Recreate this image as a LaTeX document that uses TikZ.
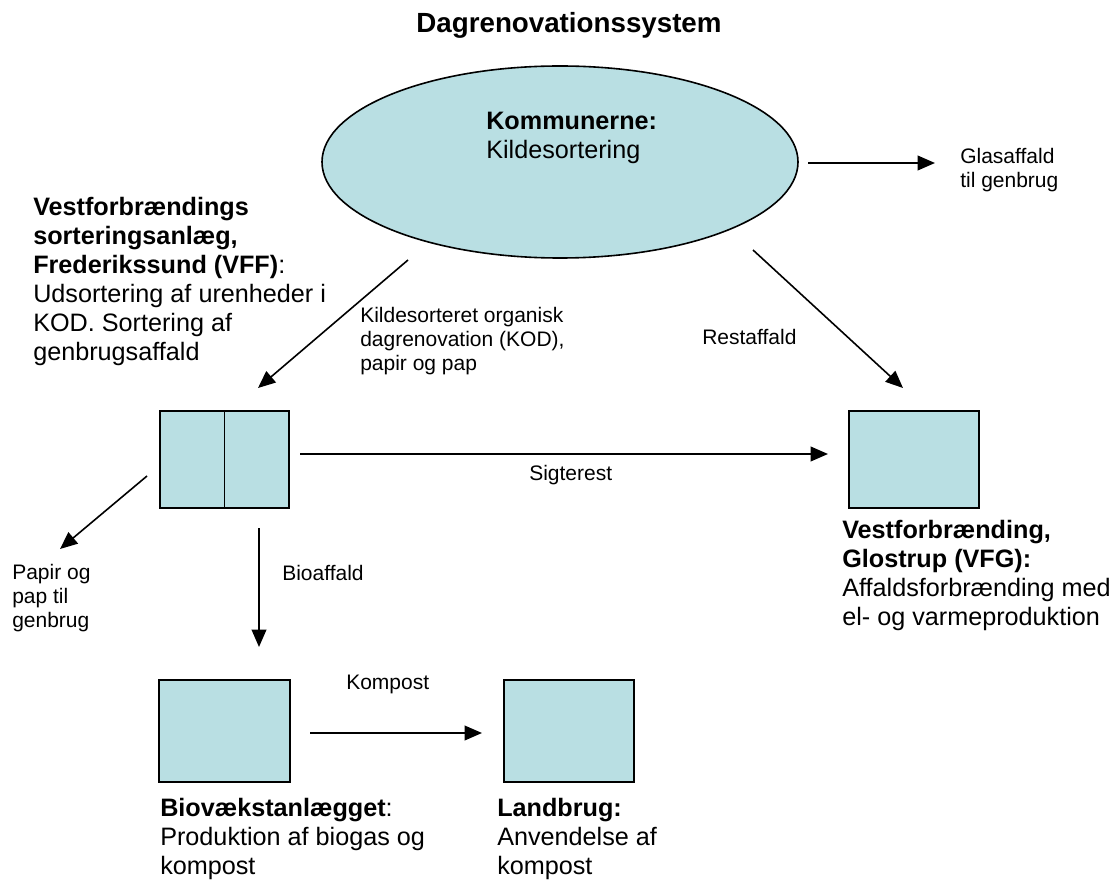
\documentclass[tikz,border=0pt]{standalone}
\usepackage{fontspec}
\setmainfont{Liberation Sans}
\usetikzlibrary{arrows.meta,shapes.geometric}
\definecolor{boxfill}{RGB}{185,223,227}
\begin{document}
\begin{tikzpicture}[x=0.75pt,y=-0.75pt,
  box/.style={draw=black, line width=1.2pt, fill=boxfill, inner sep=0},
  arr/.style={line width=1.2pt, -{Triangle[length=13pt,width=11pt]}},
  body/.style={font=\fontsize{18.9}{21.75}\selectfont, align=left, anchor=north west, inner sep=0},
  lbl/.style={font=\fontsize{15.75}{18}\selectfont, align=left, anchor=north west, inner sep=0},
  titlestyle/.style={font=\bfseries\fontsize{20.8}{24}\selectfont, inner sep=0}]
\useasboundingbox (0,0) rectangle (1113,880);

% title
\node[titlestyle] (title) at (569,25) {Dagrenovationssystem};

% shapes
\node[box, ellipse, minimum width=357pt, minimum height=144pt] (komm) at (560,162) {};
\node[box, minimum width=96.75pt, minimum height=72.75pt] (vff) at (224.5,459.5) {};
\draw[line width=1.2pt] (vff.north) -- (vff.south);
\node[box, minimum width=97.5pt, minimum height=72.75pt] (vfg) at (914,459.5) {};
\node[box, minimum width=98.25pt, minimum height=76.5pt] (bio) at (224.5,731) {};
\node[box, minimum width=97.5pt, minimum height=76.5pt] (land) at (569,731) {};

% main texts
\node[body] (kommtxt) at (486,112) {\textbf{Kommunerne:}\\Kildesortering};
\node[body] (vfftxt) at (33,197) {\textbf{Vestforbrændings}\\\textbf{sorteringsanlæg,}\\\textbf{Frederikssund (VFF)}:\\Udsortering af urenheder i\\KOD. Sortering af\\genbrugsaffald};
\node[body] (vfgtxt) at (842,520) {\textbf{Vestforbrænding,}\\\textbf{Glostrup (VFG):}\\Affaldsforbrænding med\\el- og varmeproduktion};
\node[body] (biotxt) at (160,798) {\textbf{Biovækstanlægget}:\\Produktion af biogas og\\kompost};
\node[body] (landtxt) at (497,798) {\textbf{Landbrug:}\\Anvendelse af\\kompost};

% labels
\node[lbl] (kodlbl) at (360,307) {Kildesorteret organisk\\dagrenovation (KOD),\\papir og pap};
\node[lbl] (restlbl) at (702,329) {Restaffald};
\node[lbl] (glaslbl) at (960,148) {Glasaffald\\til genbrug};
\node[lbl] (siglbl) at (529,465) {Sigterest};
\node[lbl] (biolbl) at (282,565) {Bioaffald};
\node[lbl] (paplbl) at (12,564) {Papir og\\pap til\\genbrug};
\node[lbl] (komplbl) at (346,675) {Kompost};

% connector end points
\coordinate (kodA) at (408,260);
\coordinate (kodB) at (258,388);
\coordinate (restA) at (753,250);
\coordinate (restB) at (903,388);
\coordinate (glasA) at (808,163);
\coordinate (glasB) at (935,163);
\coordinate (sigA) at (300,454);
\coordinate (sigB) at (828,454);
\coordinate (papA) at (147,476);
\coordinate (papB) at (60,549);
\coordinate (bioA) at (259,528);
\coordinate (bioB) at (259,647);
\coordinate (kompA) at (310,733);
\coordinate (kompB) at (482,733);

% connectors
\draw[arr] (kodA) -- (kodB);
\draw[arr] (restA) -- (restB);
\draw[arr] (glasA) -- (glasB);
\draw[arr] (sigA) -- (sigB);
\draw[arr] (papA) -- (papB);
\draw[arr] (bioA) -- (bioB);
\draw[arr] (kompA) -- (kompB);
\end{tikzpicture}
\end{document}
